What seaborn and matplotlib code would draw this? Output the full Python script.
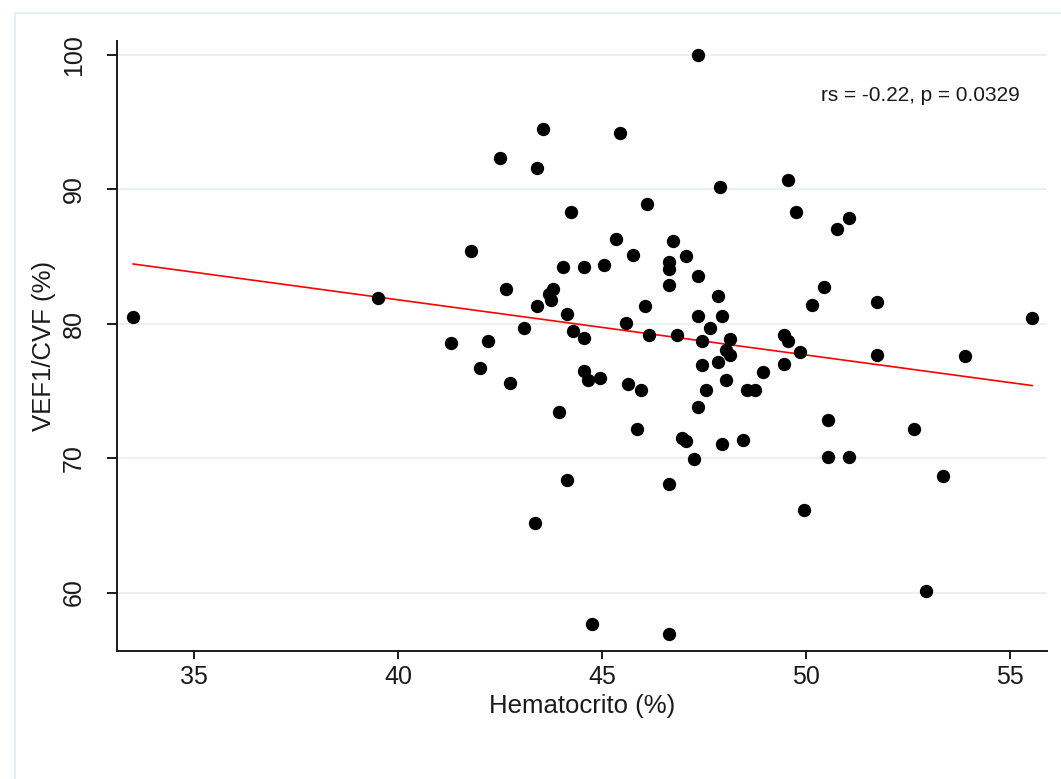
import seaborn as sns
import numpy as np
import pandas as pd
import matplotlib.pyplot as plt
from matplotlib.lines import Line2D

sns.set_theme(style="white")
plt.rcParams['font.family'] = ['Liberation Sans', 'DejaVu Sans']

# values
hematocrito = [33.5, 39.5, 47.35, 43.55, 45.45, 42.5, 43.4, 47.9, 44.25, 46.1,
               41.8, 45.35, 46.75, 45.75, 47.05, 44.05, 44.55, 45.05, 46.65, 46.65,
               46.65, 47.35, 42.65, 43.8, 43.7, 43.75, 43.4, 44.15, 46.05, 45.6,
               47.35, 47.85, 47.95, 47.65, 43.1, 44.3, 44.55, 46.15, 46.85, 47.45,
               48.15, 41.3, 42.2, 49.55, 49.75, 50.75, 51.05, 50.45, 50.15, 51.75,
               55.55, 49.45, 49.55, 49.85, 51.75, 53.9, 49.45, 48.95, 48.05, 48.15,
               47.85, 47.45, 48.05, 47.55, 48.55, 48.75, 47.35, 47.95, 48.45, 50.55,
               50.55, 51.05, 52.65, 53.35, 49.95, 52.95, 42.0, 42.75, 43.95, 44.55,
               44.65, 44.95, 45.65, 45.95, 45.85, 44.15, 43.35, 44.75, 46.65, 46.65,
               47.25, 46.95, 47.05]
vef1_cvf = [80.5, 81.9, 100.0, 94.5, 94.2, 92.3, 91.6, 90.2, 88.3, 88.9,
            85.45, 86.3, 86.15, 85.15, 85.05, 84.2, 84.2, 84.35, 84.6, 84.1,
            82.9, 83.55, 82.6, 82.55, 82.2, 81.8, 81.3, 80.75, 81.3, 80.05,
            80.6, 82.1, 80.6, 79.7, 79.7, 79.45, 78.95, 79.2, 79.15, 78.7,
            78.9, 78.6, 78.7, 90.7, 88.35, 87.05, 87.85, 82.75, 81.4, 81.6,
            80.45, 79.15, 78.7, 77.9, 77.7, 77.6, 77.0, 76.4, 78.05, 77.7,
            77.15, 76.95, 75.8, 75.05, 75.05, 75.05, 73.8, 71.05, 71.35, 72.85,
            70.1, 70.05, 72.2, 68.7, 66.15, 60.1, 76.7, 75.6, 73.4, 76.5,
            75.8, 75.95, 75.5, 75.1, 72.15, 68.4, 65.15, 57.65, 56.9, 68.1,
            69.9, 71.5, 71.25]

# fitted line endpoints as drawn in the reference
fit_x = [33.5, 55.55]
fit_y = [84.45, 75.4]

x_ticks = [35, 40, 45, 50, 55]
y_ticks = [60, 70, 80, 90, 100]
annotation = "rs = -0.22, p = 0.0329"

df = pd.DataFrame({"hematocrito": hematocrito, "vef1_cvf": vef1_cvf})
fit = pd.DataFrame({"x": fit_x, "y": fit_y})

fig = plt.figure(figsize=(10.61, 7.79), dpi=100)
ax = fig.add_axes([117 / 1061, 1 - 651 / 779, (1047 - 117) / 1061, (651 - 41) / 779])

# outer graph region border
frame_c = "#e6eef1"
fig.add_artist(Line2D([15 / 1061, 1], [1 - 13 / 779] * 2, color=frame_c, lw=1.5))
fig.add_artist(Line2D([15 / 1061] * 2, [0, 1 - 13 / 779], color=frame_c, lw=1.5))

ax.set_yticks(y_ticks)
ax.set_xticks(x_ticks)
ax.grid(axis='y', color="#e8f0f3", lw=1.3)
ax.grid(axis='x', visible=False)
ax.set_axisbelow(True)

sns.lineplot(data=fit, x="x", y="y", color="#ff0000", lw=1.2, ax=ax, zorder=2)
sns.scatterplot(data=df, x="hematocrito", y="vef1_cvf", color="black", s=92,
                linewidth=0, ax=ax, zorder=3)

ax.set_xlim(33.11, 55.91)
ax.set_ylim(55.65, 101.04)

sns.despine(ax=ax)
for side in ["left", "bottom"]:
    ax.spines[side].set_color("#1a1a1a")
    ax.spines[side].set_linewidth(1.4)

ax.tick_params(axis='both', direction='out', color="#1a1a1a", width=1.4,
               labelsize=18, labelcolor="#1a1a1a")
ax.tick_params(axis='x', length=6, pad=4, bottom=True)
ax.tick_params(axis='y', length=7.5, pad=15, left=True)
for lab in ax.get_yticklabels():
    lab.set_rotation(90)
    lab.set_va('center')

ax.set_xlabel("Hematocrito (%)", fontsize=18.5, color="#1a1a1a", labelpad=4)
ax.set_ylabel("VEF1/CVF (%)", fontsize=18.5, color="#1a1a1a", labelpad=4)

ax.text(50.38, 96.95, annotation, fontsize=15, color="#1a1a1a", ha='left', va='center')

fig.savefig("out.png", dpi=100)
